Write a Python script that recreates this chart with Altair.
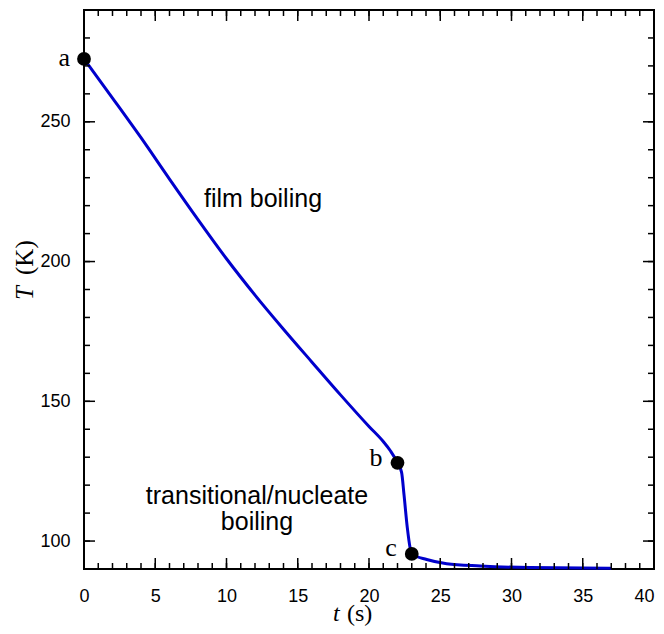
import altair as alt
import pandas as pd

# Curve
t_s = [0.0, 2.0, 4.0, 6.0, 8.0, 10.0, 12.0, 14.0, 16.0, 18.0, 20.0, 21.0, 21.5, 22.0,
       22.29, 22.46, 22.69, 22.88, 23.0, 24.05, 25.45, 27.8, 31.3, 37.0]
T_K = [272.5, 258.5, 244.3, 229.5, 215.0, 201.0, 188.0, 175.8, 164.0, 152.3, 141.0, 135.6, 132.3, 128.0,
       124.5, 116.4, 104.7, 97.7, 95.4, 93.4, 91.9, 91.1, 90.5, 90.3]

# Marked points
pt_labels = ["a", "b", "c"]
pt_t = [0.0, 22.0, 23.0]
pt_T = [272.5, 128.0, 95.4]

# Region annotations
reg_text = ["film boiling", "transitional/nucleate", "boiling"]
reg_t = [12.56, 12.14, 12.14]
reg_T = [222.3, 116.1, 106.7]

# Ticks
x_major = [0, 5, 10, 15, 20, 25, 30, 35, 40]
x_minor = list(range(0, 41))
y_major = [100, 150, 200, 250]
y_minor = list(range(90, 291, 10))

W, H = 570, 559
xs = alt.Scale(domain=[0, 40], nice=False, zero=False)
ys = alt.Scale(domain=[90, 290], nice=False, zero=False)
SANS = "Liberation Sans"
SERIF = "Liberation Serif"

XAX = alt.Axis(values=x_major, ticks=False, domain=False, grid=False, title=None, labelFlush=False,
               labelAlign={"condition": {"test": "datum.value == 40", "value": "right"}, "value": "center"},
               labelFontSize=18, labelFont=SANS, labelColor="black", labelPadding=18, format="d")
YAX = alt.Axis(values=y_major, ticks=False, domain=False, grid=False, title=None, labelFlush=False,
               labelFontSize=18, labelFont=SANS, labelColor="black", labelPadding=14, format="d")

def X(f):
    return alt.X(f, scale=xs, axis=XAX)

def Y(f):
    return alt.Y(f, scale=ys, axis=YAX)

curve = pd.DataFrame({"t": t_s, "T": T_K})
line = alt.Chart(curve).mark_line(color="#0000cc", strokeWidth=3, interpolate="monotone").encode(
    x=X("t:Q"), y=Y("T:Q"))

pts_df = pd.DataFrame({"t": pt_t, "T": pt_T, "lab": pt_labels})
points = alt.Chart(pts_df).mark_circle(size=190, color="black", opacity=1).encode(
    x=X("t:Q"), y=Y("T:Q"))

lab_offsets = {"a": (-14, 7), "b": (-15, 3), "c": (-15, 2)}
lab_layers = []
for lab in pt_labels:
    dx, dy = lab_offsets[lab]
    lab_layers.append(
        alt.Chart(pts_df).transform_filter(alt.datum.lab == lab).mark_text(
            font=SERIF, fontSize=26, align="right", baseline="alphabetic", dx=dx, dy=dy, color="black"
        ).encode(x=X("t:Q"), y=Y("T:Q"), text="lab:N"))

reg_df = pd.DataFrame({"t": reg_t, "T": reg_T, "txt": reg_text})
regions = alt.Chart(reg_df).mark_text(font=SANS, fontSize=25, align="center", baseline="middle",
                                      color="black").encode(
    x=X("t:Q"), y=Y("T:Q"), text="txt:N")

def xtick_layers(vals, length):
    df = pd.DataFrame({"t": vals})
    base = alt.Chart(df).mark_rule(color="black", strokeWidth=1.5)
    bottom = base.encode(x=X("t:Q"), y=alt.value(H), y2=alt.value(H - length))
    top = base.encode(x=X("t:Q"), y=alt.value(0), y2=alt.value(length))
    return [bottom, top]

def ytick_layers(vals, length):
    df = pd.DataFrame({"T": vals})
    base = alt.Chart(df).mark_rule(color="black", strokeWidth=1.5)
    left = base.encode(y=Y("T:Q"), x=alt.value(0), x2=alt.value(length))
    right = base.encode(y=Y("T:Q"), x=alt.value(W), x2=alt.value(W - length))
    return [left, right]

ticks = xtick_layers(x_minor, 6) + xtick_layers(x_major, 11) + ytick_layers(y_minor, 6) + ytick_layers(y_major, 11)

one = pd.DataFrame({"k": [0]})
xt_t = alt.Chart(one).mark_text(font=SERIF, fontSize=24, fontStyle="italic", align="left",
                                baseline="alphabetic", color="black").encode(
    x=alt.value(249), y=alt.value(611), text=alt.value("t"))
xt_s = alt.Chart(one).mark_text(font=SERIF, fontSize=24, align="left",
                                baseline="alphabetic", color="black").encode(
    x=alt.value(263), y=alt.value(611), text=alt.value("(s)"))
yt_T = alt.Chart(one).mark_text(font=SERIF, fontSize=25, fontStyle="italic", align="left",
                                baseline="middle", angle=270, color="black").encode(
    x=alt.value(-59), y=alt.value(290), text=alt.value("T"))
yt_K = alt.Chart(one).mark_text(font=SERIF, fontSize=25, align="left",
                                baseline="middle", angle=270, color="black").encode(
    x=alt.value(-59), y=alt.value(265), text=alt.value("(K)"))

chart = alt.layer(line, *ticks, points, *lab_layers, regions, xt_t, xt_s, yt_T, yt_K).properties(
    width=W, height=H,
    autosize=alt.AutoSizeParams(type="none"),
    padding={"left": 76, "top": 2, "right": 2, "bottom": 57},
    background="white",
).configure_view(stroke="black", strokeWidth=2)

chart.save("out.html", embed_options={"renderer": "svg", "actions": False})
